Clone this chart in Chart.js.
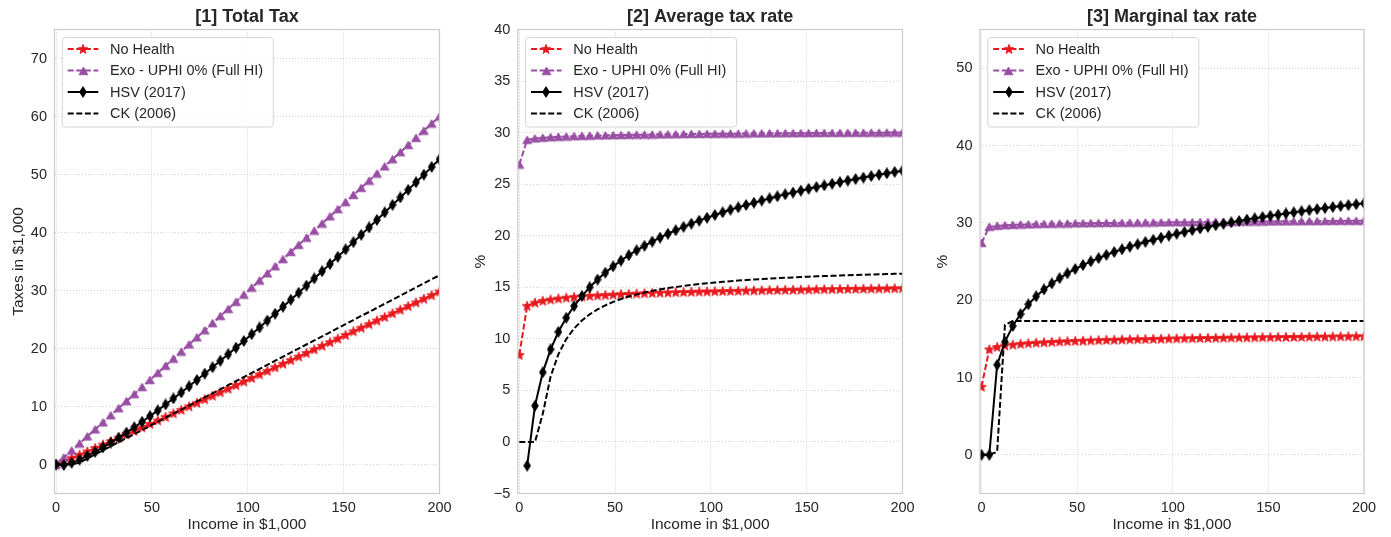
<!DOCTYPE html>
<html>
<head>
<meta charset="utf-8">
<title>Tax functions</title>
<script src="https://cdn.jsdelivr.net/npm/chart.js@4.4.0/dist/chart.umd.min.js"></script>
<style>
  html, body { margin: 0; padding: 0; background: #fff; }
  #wrap { position: relative; width: 1391px; height: 537px; }
  #wrap canvas { position: absolute; left: 0; top: 0; }
</style>
</head>
<body>
<div id="wrap">
  <canvas id="total-chart" width="1391" height="537"></canvas>
  <canvas id="avg-chart" width="1391" height="537"></canvas>
  <canvas id="mtr-chart" width="1391" height="537"></canvas>
</div>
<script>
// Income grid in $1,000
const incomes = [0, 4.08, 8.16, 12.24, 16.33, 20.41, 24.49, 28.57, 32.65, 36.73,
  40.82, 44.9, 48.98, 53.06, 57.14, 61.22, 65.31, 69.39, 73.47, 77.55,
  81.63, 85.71, 89.8, 93.88, 97.96, 102.04, 106.12, 110.2, 114.29, 118.37,
  122.45, 126.53, 130.61, 134.69, 138.78, 142.86, 146.94, 151.02, 155.1, 159.18,
  163.27, 167.35, 171.43, 175.51, 179.59, 183.67, 187.76, 191.84, 195.92, 200];

const seriesNames = ['No Health', 'Exo - UPHI 0% (Full HI)', 'HSV (2017)', 'CK (2006)'];

// [1] total tax, $1,000
const noHealthTax = [0, 0.54, 1.10, 1.68, 2.26, 2.84, 3.43, 4.02, 4.61, 5.21,
  5.80, 6.40, 7.00, 7.60, 8.21, 8.81, 9.42, 10.03, 10.63, 11.24,
  11.85, 12.46, 13.07, 13.69, 14.30, 14.91, 15.53, 16.14, 16.76, 17.38,
  17.99, 18.61, 19.23, 19.84, 20.47, 21.09, 21.70, 22.32, 22.96, 23.57,
  24.20, 24.82, 25.44, 26.06, 26.69, 27.31, 27.94, 28.57, 29.19, 29.82];
const exoTax = [0, 1.20, 2.40, 3.61, 4.83, 6.04, 7.25, 8.47, 9.69, 10.91,
  12.13, 13.35, 14.57, 15.79, 17.02, 18.24, 19.46, 20.69, 21.91, 23.13,
  24.36, 25.59, 26.81, 28.04, 29.27, 30.49, 31.72, 32.95, 34.17, 35.40,
  36.64, 37.86, 39.09, 40.31, 41.55, 42.77, 44.01, 45.23, 46.47, 47.69,
  48.93, 50.16, 51.40, 52.62, 53.84, 55.08, 56.31, 57.55, 58.78, 60.00];
const hsvTax = [0, -0.09, 0.29, 0.83, 1.47, 2.18, 2.95, 3.77, 4.62, 5.51,
  6.43, 7.37, 8.34, 9.33, 10.35, 11.38, 12.42, 13.48, 14.56, 15.66,
  16.76, 17.88, 19.01, 20.15, 21.30, 22.46, 23.63, 24.82, 26.00, 27.20,
  28.41, 29.62, 30.85, 32.08, 33.32, 34.56, 35.81, 37.08, 38.34, 39.60,
  40.88, 42.17, 43.46, 44.76, 46.05, 47.35, 48.67, 49.97, 51.31, 52.62];
const ckTax = [0, 0, 0, 0.33, 1.04, 1.74, 2.44, 3.14, 3.84, 4.55,
  5.25, 5.95, 6.65, 7.35, 8.06, 8.76, 9.46, 10.17, 10.87, 11.57,
  12.27, 12.97, 13.68, 14.37, 15.08, 15.78, 16.48, 17.18, 17.89, 18.58,
  19.29, 19.99, 20.69, 21.39, 22.09, 22.80, 23.50, 24.21, 24.91, 25.61,
  26.30, 27.01, 27.72, 28.42, 29.11, 29.83, 30.53, 31.23, 31.94, 32.62];

// [2] average tax rate, %
const noHealthAvg = [8.43, 13.20, 13.51, 13.69, 13.81, 13.91, 13.99, 14.06, 14.12, 14.17,
  14.21, 14.25, 14.29, 14.33, 14.36, 14.39, 14.42, 14.45, 14.47, 14.49,
  14.52, 14.54, 14.56, 14.58, 14.60, 14.61, 14.63, 14.65, 14.66, 14.68,
  14.69, 14.71, 14.72, 14.73, 14.75, 14.76, 14.77, 14.78, 14.80, 14.81,
  14.82, 14.83, 14.84, 14.85, 14.86, 14.87, 14.88, 14.89, 14.90, 14.91];
const exoAvg = [26.90, 29.30, 29.43, 29.50, 29.55, 29.59, 29.62, 29.65, 29.68, 29.70,
  29.72, 29.73, 29.75, 29.76, 29.78, 29.79, 29.80, 29.81, 29.82, 29.83,
  29.84, 29.85, 29.86, 29.87, 29.88, 29.88, 29.89, 29.90, 29.90, 29.91,
  29.92, 29.92, 29.93, 29.93, 29.94, 29.94, 29.95, 29.95, 29.96, 29.96,
  29.97, 29.97, 29.98, 29.98, 29.98, 29.99, 29.99, 30.00, 30.00, 30.00];
const hsvAvg = [null, -2.30, 3.51, 6.75, 8.98, 10.68, 12.04, 13.18, 14.15, 15.00,
  15.75, 16.42, 17.03, 17.59, 18.11, 18.58, 19.02, 19.43, 19.82, 20.19,
  20.53, 20.86, 21.17, 21.46, 21.74, 22.01, 22.27, 22.52, 22.75, 22.98,
  23.20, 23.41, 23.62, 23.82, 24.01, 24.19, 24.37, 24.55, 24.72, 24.88,
  25.04, 25.20, 25.35, 25.50, 25.64, 25.78, 25.92, 26.05, 26.19, 26.31];
const ckAvg = [0, 0, 0, 2.73, 6.35, 8.52, 9.97, 11.00, 11.77, 12.38,
  12.86, 13.25, 13.58, 13.86, 14.10, 14.31, 14.49, 14.65, 14.79, 14.92,
  15.03, 15.13, 15.23, 15.31, 15.39, 15.46, 15.53, 15.59, 15.65, 15.70,
  15.75, 15.80, 15.84, 15.88, 15.92, 15.96, 15.99, 16.03, 16.06, 16.09,
  16.11, 16.14, 16.17, 16.19, 16.21, 16.24, 16.26, 16.28, 16.30, 16.31];

// [3] marginal tax rate, %
const noHealthMtr = [8.80, 13.64, 13.95, 14.13, 14.25, 14.35, 14.43, 14.50, 14.55, 14.60,
  14.65, 14.69, 14.73, 14.76, 14.80, 14.83, 14.86, 14.88, 14.91, 14.93,
  14.95, 14.97, 14.99, 15.01, 15.03, 15.05, 15.07, 15.08, 15.10, 15.11,
  15.13, 15.14, 15.16, 15.17, 15.18, 15.19, 15.21, 15.22, 15.23, 15.24,
  15.25, 15.26, 15.27, 15.28, 15.29, 15.30, 15.31, 15.32, 15.33, 15.34];
const exoMtr = [27.40, 29.48, 29.61, 29.68, 29.73, 29.77, 29.80, 29.83, 29.86, 29.88,
  29.90, 29.91, 29.93, 29.94, 29.96, 29.97, 29.98, 29.99, 30.00, 30.01,
  30.02, 30.03, 30.04, 30.05, 30.06, 30.07, 30.08, 30.09, 30.10, 30.11,
  30.12, 30.12, 30.13, 30.14, 30.15, 30.16, 30.17, 30.18, 30.19, 30.19,
  30.20, 30.21, 30.22, 30.22, 30.23, 30.24, 30.25, 30.26, 30.26, 30.27];
const hsvMtr = [0, 0, 11.64, 14.61, 16.66, 18.21, 19.46, 20.50, 21.39, 22.16,
  22.85, 23.47, 24.03, 24.54, 25.01, 25.44, 25.85, 26.23, 26.58, 26.92,
  27.23, 27.53, 27.81, 28.08, 28.34, 28.59, 28.82, 29.05, 29.27, 29.47,
  29.68, 29.87, 30.06, 30.24, 30.42, 30.58, 30.75, 30.91, 31.06, 31.21,
  31.36, 31.50, 31.64, 31.78, 31.91, 32.04, 32.17, 32.29, 32.41, 32.53];
const ckMtr = [0, 0, 0.40, 16.80, 17.30, 17.30, 17.30, 17.30, 17.30, 17.30,
  17.30, 17.30, 17.30, 17.30, 17.30, 17.30, 17.30, 17.30, 17.30, 17.30,
  17.30, 17.30, 17.30, 17.30, 17.30, 17.30, 17.30, 17.30, 17.30, 17.30,
  17.30, 17.30, 17.30, 17.30, 17.30, 17.30, 17.30, 17.30, 17.30, 17.30,
  17.30, 17.30, 17.30, 17.30, 17.30, 17.30, 17.30, 17.30, 17.30, 17.30];

// axis ticks
const incomeTicks = [0, 50, 100, 150, 200];
const taxTicks = [0, 10, 20, 30, 40, 50, 60, 70];
const avgTicks = [-5, 0, 5, 10, 15, 20, 25, 30, 35, 40];
const mtrTicks = [0, 10, 20, 30, 40, 50];

const FONT = "'Liberation Sans', Arial, sans-serif";
const TEXT = '#262626';
const FRAME = '#cccccc';
const RED = '#e8191e';
const PURPLE = '#984ea3';
const BLACK = '#000000';
const DASH = [6, 2.6];

// small filled marker sprites
function markerCanvas(shape, color) {
  const c = document.createElement('canvas');
  const g = c.getContext('2d');
  if (shape === 'star') {
    c.width = 12; c.height = 12;
    g.beginPath();
    for (let k = 0; k < 10; k++) {
      const r = k % 2 === 0 ? 5.1 : 2.2;
      const ang = -Math.PI / 2 + k * Math.PI / 5;
      const px = 6 + r * Math.cos(ang), py = 6.4 + r * Math.sin(ang);
      k === 0 ? g.moveTo(px, py) : g.lineTo(px, py);
    }
  } else if (shape === 'triangle') {
    c.width = 11; c.height = 10;
    g.beginPath();
    g.moveTo(5.5, 1); g.lineTo(10, 8.8); g.lineTo(1, 8.8);
  } else {
    c.width = 8; c.height = 12;
    g.beginPath();
    g.moveTo(4, 0.6); g.lineTo(7.4, 6); g.lineTo(4, 11.4); g.lineTo(0.6, 6);
  }
  g.closePath();
  g.fillStyle = color;
  g.fill();
  g.lineWidth = 0.8;
  g.strokeStyle = color;
  g.stroke();
  return c;
}

const styles = [
  {color: RED, dash: true, marker: markerCanvas('star', RED)},
  {color: PURPLE, dash: true, marker: markerCanvas('triangle', PURPLE)},
  {color: BLACK, dash: false, marker: markerCanvas('diamond', BLACK)},
  {color: BLACK, dash: true, marker: null}
];

function lineSet(k, ys) {
  const st = styles[k];
  return {
    label: seriesNames[k],
    data: incomes.map((x, i) => ({x: x, y: ys[i]})),
    borderColor: st.color,
    backgroundColor: st.color,
    borderWidth: 2,
    borderDash: st.dash ? DASH : [],
    pointStyle: st.marker || 'circle',
    pointRadius: st.marker ? 4 : 0,
    pointHoverRadius: 0,
    tension: 0,
    fill: false,
    order: 3 - k
  };
}

// frame, title and in-plot legend
const panelDecor = {
  id: 'panelDecor',
  afterDraw(chart, args, opts) {
    const a = chart.chartArea;
    const ctx = chart.ctx;
    ctx.save();
    ctx.setLineDash([]);
    ctx.strokeStyle = FRAME;
    ctx.lineWidth = 1.25;
    ctx.strokeRect(a.left, a.top, a.right - a.left, a.bottom - a.top);

    ctx.fillStyle = TEXT;
    ctx.font = 'bold 18px ' + FONT;
    ctx.textAlign = 'center';
    ctx.textBaseline = 'middle';
    ctx.fillText(opts.title, (a.left + a.right) / 2, 17);

    const bx = a.left + 7.8, by = a.top + 8, bw = 211, bh = 89.5, r = 3;
    ctx.beginPath();
    ctx.moveTo(bx + r, by);
    ctx.arcTo(bx + bw, by, bx + bw, by + bh, r);
    ctx.arcTo(bx + bw, by + bh, bx, by + bh, r);
    ctx.arcTo(bx, by + bh, bx, by, r);
    ctx.arcTo(bx, by, bx + bw, by, r);
    ctx.closePath();
    ctx.fillStyle = 'rgba(255,255,255,0.8)';
    ctx.fill();
    ctx.strokeStyle = '#d6d6d6';
    ctx.lineWidth = 1;
    ctx.stroke();

    ctx.font = '14.5px ' + FONT;
    ctx.textAlign = 'left';
    styles.forEach((st, k) => {
      const cy = a.top + 19.5 + k * 21.5;
      const x0 = a.left + 13.2, x1 = a.left + 43.8;
      ctx.strokeStyle = st.color;
      ctx.lineWidth = 2;
      ctx.setLineDash(st.dash ? DASH : []);
      ctx.beginPath();
      ctx.moveTo(x0, cy);
      ctx.lineTo(x1, cy);
      ctx.stroke();
      if (st.marker) {
        ctx.drawImage(st.marker, Math.round((x0 + x1) / 2 - st.marker.width / 2), Math.round(cy - st.marker.height / 2));
      }
      ctx.fillStyle = TEXT;
      ctx.fillText(seriesNames[k], a.left + 55.5, cy + 0.5);
    });
    ctx.restore();
  }
};

function fmt(v) {
  return v < 0 ? '\u2212' + Math.abs(v) : String(v);
}

function makeChart(id, panel) {
  const ctx = document.getElementById(id).getContext('2d');
  return new Chart(ctx, {
    type: 'line',
    data: {datasets: panel.series.map((ys, k) => lineSet(k, ys))},
    plugins: [panelDecor],
    options: {
      responsive: false,
      animation: false,
      events: [],
      layout: {
        padding: {left: panel.left - panel.axisWidth, right: 1391 - panel.right, top: 29.5, bottom: 0}
      },
      plugins: {
        legend: {display: false},
        tooltip: {enabled: false},
        panelDecor: {title: panel.title}
      },
      scales: {
        x: {
          type: 'linear',
          min: -0.8,
          max: 200,
          afterBuildTicks: s => { s.ticks = incomeTicks.map(v => ({value: v})); },
          afterFit: s => { s.height = 43.5; },
          grid: {color: FRAME, lineWidth: 0.9, drawTicks: false},
          border: {display: false, dash: [1, 2]},
          ticks: {color: TEXT, font: {family: FONT, size: 14.5}, padding: 6, autoSkip: false, maxRotation: 0, callback: fmt},
          title: {display: true, text: 'Income in $1,000', color: TEXT, font: {family: FONT, size: 15.5}, padding: {top: 0, bottom: 3}}
        },
        y: {
          type: 'linear',
          min: panel.yMin,
          max: panel.yMax,
          afterBuildTicks: s => { s.ticks = panel.ticks.map(v => ({value: v})); },
          afterFit: s => { s.width = panel.axisWidth; },
          grid: {color: FRAME, lineWidth: 0.9, drawTicks: false},
          border: {display: false, dash: [1, 2]},
          ticks: {color: TEXT, font: {family: FONT, size: 14.5}, padding: 7.5, autoSkip: false, callback: fmt},
          title: {display: true, text: panel.yTitle, color: TEXT, font: {family: FONT, size: 15.5}, padding: {top: panel.titlePad, bottom: 0}}
        }
      }
    }
  });
}

makeChart('total-chart', {
  title: '[1] Total Tax', left: 54.5, right: 439.5, axisWidth: 54.5, titlePad: 9,
  yMin: -5, yMax: 75, ticks: taxTicks, yTitle: 'Taxes in $1,000',
  series: [noHealthTax, exoTax, hsvTax, ckTax]
});
makeChart('avg-chart', {
  title: '[2] Average tax rate', left: 517.8, right: 902.5, axisWidth: 60, titlePad: 14,
  yMin: -5, yMax: 40, ticks: avgTicks, yTitle: '%',
  series: [noHealthAvg, exoAvg, hsvAvg, ckAvg]
});
makeChart('mtr-chart', {
  title: '[3] Marginal tax rate', left: 980, right: 1364, axisWidth: 60, titlePad: 13,
  yMin: -5, yMax: 55, ticks: mtrTicks, yTitle: '%',
  series: [noHealthMtr, exoMtr, hsvMtr, ckMtr]
});
</script>
</body>
</html>
